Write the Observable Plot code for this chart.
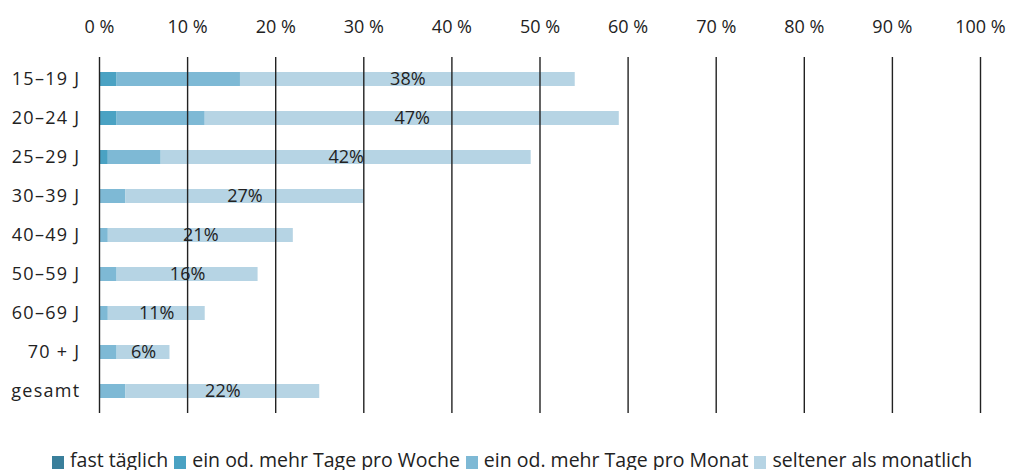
<!DOCTYPE html>
<html>
<head>
<meta charset="utf-8">
<script src="https://cdn.jsdelivr.net/npm/d3@7"></script>
<script src="https://cdn.jsdelivr.net/npm/@observablehq/plot@0.6"></script>
<style>
  body { margin: 0; background: #fff; font-family: "Open Sans", sans-serif; overflow: hidden; }
  #chart svg { display: block; }
  g[aria-label="y-axis tick label"] text { letter-spacing: 1.3px; }
  .legend { display: flex; justify-content: flex-start; align-items: center; padding-left: 52px; height: 20px; line-height: 20px; margin-top: 10px; font-size: 19.5px; color: #222; white-space: nowrap; }
  .legend .item { display: flex; align-items: center; margin-right: 6px; }
  .legend .sw { width: 12px; height: 13px; margin-right: 6px; margin-top: 5px; }
</style>
</head>
<body>
<div id="chart"></div>
<div class="legend" id="legend"></div>
<script>
const categories = ["15–19 J", "20–24 J", "25–29 J", "30–39 J", "40–49 J", "50–59 J", "60–69 J", "70 + J", "gesamt"];
const seriesNames = ["fast täglich", "ein od. mehr Tage pro Woche", "ein od. mehr Tage pro Monat", "seltener als monatlich"];
const seriesColors = ["#3a7f9b", "#4aa2c3", "#7eb9d5", "#b6d4e4"];
const fastTaeglich = [0, 0, 0, 0, 0, 0, 0, 0, 0];
const proWoche = [2, 2, 1, 0, 0, 0, 0, 0, 0];
const proMonat = [14, 10, 6, 3, 1, 2, 1, 2, 3];
const seltener = [38, 47, 42, 27, 21, 16, 11, 6, 22];
const xTicks = [0, 10, 20, 30, 40, 50, 60, 70, 80, 90, 100];

const seriesValues = [fastTaeglich, proWoche, proMonat, seltener];
const long = [];
categories.forEach((c, i) => {
  seriesNames.forEach((s, j) => long.push({cat: c, series: s, value: seriesValues[j][i]}));
});
const labels = categories.map((c, i) => ({
  cat: c,
  x: fastTaeglich[i] + proWoche[i] + proMonat[i] + seltener[i] / 2,
  text: seltener[i] + "%"
}));

const chart = Plot.plot({
  width: 1011,
  height: 440,
  marginTop: 57,
  marginBottom: 27,
  marginLeft: 99,
  marginRight: 31,
  style: {fontFamily: "Open Sans", fontSize: "18px", color: "#222", background: "#fff"},
  x: {domain: [0, 100]},
  y: {domain: categories, paddingInner: 0.64, paddingOuter: 0.33},
  color: {domain: seriesNames, range: seriesColors},
  marks: [
    Plot.barX(long, Plot.stackX({y: "cat", x: "value", fill: "series", order: seriesNames})),
    Plot.ruleX(xTicks, {stroke: "#222", strokeWidth: 1.4}),
    Plot.text(labels, {x: "x", y: "cat", text: "text", fill: "#222", fontSize: 18}),
    Plot.axisX({anchor: "top", ticks: xTicks, tickSize: 0, tickPadding: 25, tickFormat: d => d + " %", label: null, fontSize: 18}),
    Plot.axisY({tickSize: 0, tickPadding: 19, label: null, fontSize: 18})
  ]
});
document.getElementById("chart").appendChild(chart);

const legend = document.getElementById("legend");
seriesNames.forEach((s, j) => {
  const item = document.createElement("div");
  item.className = "item";
  const sw = document.createElement("span");
  sw.className = "sw";
  sw.style.background = seriesColors[j];
  const t = document.createElement("span");
  t.textContent = s;
  item.appendChild(sw);
  item.appendChild(t);
  legend.appendChild(item);
});
</script>
</body>
</html>
